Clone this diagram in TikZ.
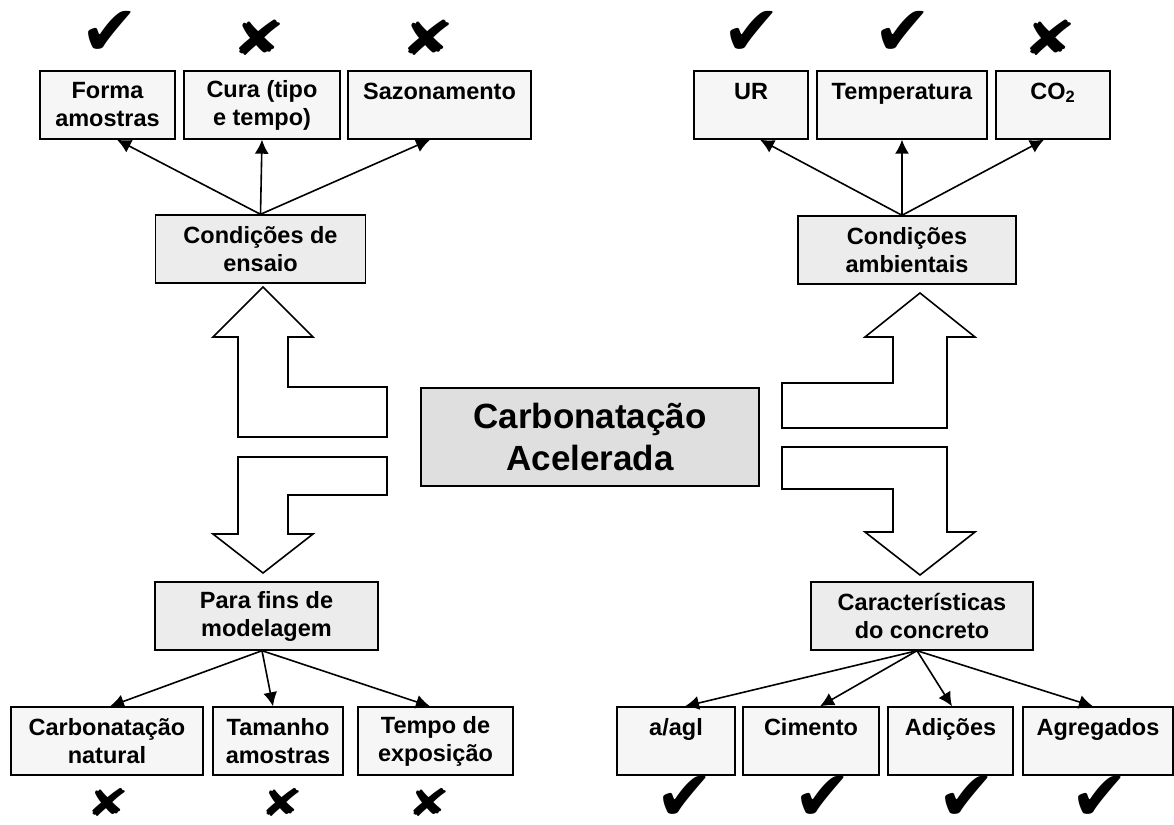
\documentclass[tikz,border=0pt]{standalone}
\usepackage{fontspec}
\setmainfont{Liberation Sans}
\newfontfamily\symbfont{DejaVu Sans}
\usetikzlibrary{arrows.meta}

\newcommand{\okmark}{{\symbfont\fontsize{35}{35}\selectfont ✔}}
\newcommand{\nomark}[1][24]{{\symbfont\fontsize{#1}{#1}\selectfont\scalebox{1.35}[1]{✘}}}

\tikzset{
  item/.style={draw,line width=0.7pt,fill=gray!7,align=center,
    minimum height=34pt,inner sep=1pt,
    font=\fontsize{11.75}{14}\selectfont\bfseries},
  group/.style={item,fill=gray!15},
  main/.style={draw,line width=0.8pt,fill=gray!25,align=center,
    minimum width=169pt,minimum height=49pt,
    font=\fontsize{17.5}{21}\selectfont\bfseries},
  link/.style={line width=0.8pt,-{Latex[length=7pt,width=7pt]}},
  bigarrow/.style={draw,line width=0.8pt,fill=white,line join=miter},
  verdict/.style={inner sep=0pt}
}

\begin{document}
\begin{tikzpicture}[x=0.5pt,y=-0.5pt]
    \useasboundingbox (0,0) rectangle (1174,825);

    % centre
    \node[main] (acel) at (590,437) {Carbonatação\\Acelerada};

    % upper left: test conditions
    \node[group,minimum width=105pt] (ensaio) at (260.5,249) {Condições de\\ensaio};
    \node[item,minimum width=67.5pt] (forma) at (107.5,105) {Forma\\amostras};
    \node[item,minimum width=78pt] (cura) at (262,105) {Cura (tipo\\e tempo)};
    \node[item,minimum width=91.5pt] (sazon) at (439.5,105) {Sazonamento\\~};
    \coordinate (ensaiotop) at (ensaio.north);
    \draw[link] (ensaiotop) -- ([xshift=4.75pt]forma.south);
    \draw[link] (ensaiotop) -- (cura.south);
    \draw[link] (ensaiotop) -- ([xshift=-4.75pt]sazon.south);

    % upper right: environment
    \node[group,minimum width=109pt] (ambient) at (907,250) {Condições\\ambientais};
    \node[item,minimum width=57pt] (ur) at (751,105) {UR\\~};
    \node[item,minimum width=85pt] (temp) at (902,105) {Temperatura\\~};
    \node[item,minimum width=57pt] (co2) at (1053,105) {CO\textsubscript{2}\\~};
    \coordinate (ambienttop) at ([xshift=-2.5pt]ambient.north);
    \draw[link] (ambienttop) -- ([xshift=4.5pt]ur.south);
    \draw[link] (ambienttop) -- (temp.south);
    \draw[link] (ambienttop) -- ([xshift=-4.5pt]co2.south);

    % lower left: modelling
    \node[group,minimum width=111.5pt] (fins) at (266.5,616) {Para fins de\\modelagem};
    \node[item,minimum width=96pt] (natural) at (107,741) {Carbonatação\\natural};
    \node[item,minimum width=65pt] (tamanho) at (278,741) {Tamanho\\amostras};
    \node[item,minimum width=77.5pt] (tempo) at (435.5,741) {Tempo de\\exposição};
    \coordinate (finsbot) at ([xshift=-2.25pt]fins.south);
    \draw[link] (finsbot) -- ([xshift=1.5pt]natural.north);
    \draw[link] (finsbot) -- ([xshift=-2.5pt]tamanho.north);
    \draw[link] (finsbot) -- ([xshift=-2.75pt]tempo.north);

    % lower right: concrete
    \node[group,minimum width=111pt] (caract) at (922,616) {Características\\do concreto};
    \node[item,minimum width=59pt] (agl) at (676,741) {a/agl\\~};
    \node[item,minimum width=68pt] (cimento) at (811,741) {Cimento\\~};
    \node[item,minimum width=62.5pt] (adicoes) at (950.5,741) {Adições\\~};
    \node[item,minimum width=75pt] (agreg) at (1098,741) {Agregados\\~};
    \coordinate (caractbot) at ([xshift=-2.5pt]caract.south);
    \draw[link] (caractbot) -- ([xshift=4.5pt]agl.north);
    \draw[link] (caractbot) -- ([xshift=4.5pt]cimento.north);
    \draw[link] (caractbot) -- ([xshift=0.75pt]adicoes.north);
    \draw[link] (caractbot) -- ([xshift=-2.5pt]agreg.north);

    % block arrows
    \draw[bigarrow] (263,287) -- (313,337) -- (288,337) -- (288,387) -- (387,387)
        -- (387,437) -- (238,437) -- (238,337) -- (213,337) -- cycle;
    \draw[bigarrow] (238,457) -- (387,457) -- (387,495) -- (288,495) -- (288,534)
        -- (313,534) -- (263,573) -- (213,534) -- (238,534) -- cycle;
    \draw[bigarrow] (920,293) -- (975,337) -- (947,337) -- (947,428) -- (782,428)
        -- (782,383) -- (893,383) -- (893,337) -- (865,337) -- cycle;
    \draw[bigarrow] (782,447) -- (947,447) -- (947,532) -- (975,532) -- (920,575)
        -- (865,532) -- (893,532) -- (893,489) -- (782,489) -- cycle;

    % marks
    \node[verdict] (okforma) at (110,33) {\okmark};
    \node[verdict] (nocura) at (259,38) {\nomark};
    \node[verdict] (nosazon) at (428,38) {\nomark};
    \foreach \n/\x in {ur/752,temp/903}
        \node[verdict] (ok\n) at (\x,33) {\okmark};
    \node[verdict] (noco2) at (1050,38) {\nomark};
    \foreach \n/\x in {natural/108,tamanho/282,tempo/429}
        \node[verdict] (no\n) at (\x,802) {\nomark[19]};
    \foreach \n/\x in {agl/685,cimento/823,adicoes/967,agreg/1100}
        \node[verdict] (ok\n) at (\x,798) {\okmark};
\end{tikzpicture}
\end{document}
